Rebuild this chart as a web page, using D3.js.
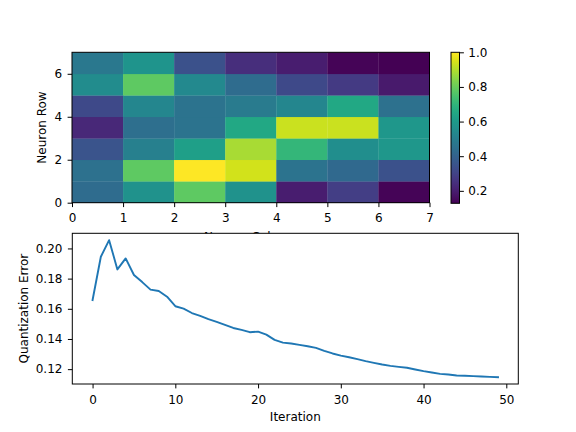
<!DOCTYPE html>
<html>
<head>
<meta charset="utf-8">
<script src="https://cdn.jsdelivr.net/npm/d3@7"></script>
<style>
  body { margin: 0; background: white; }
  text { font-family: "DejaVu Sans", sans-serif; }
</style>
</head>
<body>
<div id="chart"></div>
<script>
// SOM weights map, row 0 at the bottom
let neuron_rows = [0, 1, 2, 3, 4, 5, 6];
let neuron_cols = [0, 1, 2, 3, 4, 5, 6];
let row0 = [0.433, 0.573, 0.782, 0.573, 0.198, 0.285, 0.137];
let row1 = [0.451, 0.782, 1.000, 0.939, 0.459, 0.424, 0.346];
let row2 = [0.355, 0.503, 0.616, 0.887, 0.704, 0.555, 0.590];
let row3 = [0.224, 0.442, 0.459, 0.651, 0.930, 0.930, 0.590];
let row4 = [0.320, 0.529, 0.459, 0.486, 0.529, 0.651, 0.451];
let row5 = [0.547, 0.782, 0.538, 0.433, 0.320, 0.276, 0.189];
let row6 = [0.477, 0.581, 0.346, 0.241, 0.198, 0.137, 0.128];
let grid = [row0, row1, row2, row3, row4, row5, row6];

let heat_x_ticks = [0, 1, 2, 3, 4, 5, 6, 7];
let heat_y_ticks = [0, 2, 4, 6];
let cbar_ticks = [0.2, 0.4, 0.6, 0.8, 1.0];

// quantization error per iteration
let iterations = d3.range(50);
let q_error = [
    0.1658, 0.1945, 0.2055, 0.1861, 0.1934, 0.1824, 0.1777, 0.1727, 0.1718, 0.1680,
    0.1617, 0.1601, 0.1572, 0.1553, 0.1531, 0.1513, 0.1493, 0.1473, 0.1460, 0.1445,
    0.1449, 0.1429, 0.1394, 0.1376, 0.1370, 0.1361, 0.1352, 0.1341, 0.1321, 0.1304,
    0.1290, 0.1279, 0.1266, 0.1253, 0.1242, 0.1231, 0.1222, 0.1215, 0.1209, 0.1198,
    0.1187, 0.1178, 0.1169, 0.1165, 0.1158, 0.1156, 0.1154, 0.1151, 0.1149, 0.1147
];
let err_x_ticks = [0, 10, 20, 30, 40, 50];
let err_y_ticks = [0.12, 0.14, 0.16, 0.18, 0.20];

let width = 576, height = 432;
let font_size = "12px";
let tick_len = 4.4;

let svg = d3.select("#chart")
    .append("svg")
    .attr("width", width)
    .attr("height", height);

svg.append("rect").attr("width", width).attr("height", height).attr("fill", "white");

function style_axis(g) {
    g.selectAll("path").attr("stroke", "black").attr("stroke-width", 1);
    g.selectAll("line").attr("stroke", "black").attr("stroke-width", 1);
    g.selectAll("text")
        .attr("font-family", "DejaVu Sans, sans-serif")
        .attr("font-size", font_size)
        .attr("fill", "black");
}

// ---------- heatmap ----------
let hm = {left: 72, right: 429.5, top: 52.3, bottom: 202.7};

let hx = d3.scaleLinear().domain([0, 7]).range([hm.left, hm.right]);
let hy = d3.scaleLinear().domain([0, 7]).range([hm.bottom, hm.top]);

let all_vals = grid.flat();
let color = d3.scaleSequential(d3.interpolateViridis)
    .domain([d3.min(all_vals), d3.max(all_vals)]);

let cells = [];
grid.forEach(function(row, r) {
    row.forEach(function(v, c) {
        cells.push({row: neuron_rows[r], col: neuron_cols[c], value: v});
    });
});

svg.append("g")
    .selectAll("rect")
    .data(cells)
    .enter()
    .append("rect")
    .attr("x", function(d) { return hx(d.col); })
    .attr("y", function(d) { return hy(d.row + 1); })
    .attr("width", function(d) { return hx(d.col + 1) - hx(d.col) + 0.3; })
    .attr("height", function(d) { return hy(d.row) - hy(d.row + 1) + 0.3; })
    .attr("fill", function(d) { return color(d.value); });

svg.append("rect")
    .attr("x", hm.left).attr("y", hm.top)
    .attr("width", hm.right - hm.left).attr("height", hm.bottom - hm.top)
    .attr("fill", "none").attr("stroke", "black").attr("stroke-width", 1);

svg.append("g")
    .attr("transform", "translate(0," + hm.bottom + ")")
    .call(d3.axisBottom(hx).tickValues(heat_x_ticks).tickFormat(d3.format("d")).tickSize(tick_len).tickPadding(6.5))
    .call(style_axis)
    .select(".domain").remove();

svg.append("g")
    .attr("transform", "translate(" + hm.left + ",0)")
    .call(d3.axisLeft(hy).tickValues(heat_y_ticks).tickFormat(d3.format("d")).tickSize(tick_len).tickPadding(5.5))
    .call(style_axis)
    .select(".domain").remove();

svg.append("text")
    .attr("transform", "translate(46," + ((hm.top + hm.bottom) / 2) + ")rotate(-90)")
    .attr("text-anchor", "middle")
    .attr("font-size", font_size)
    .text("Neuron Row");

// this label ends up under the lower axes, like the original
svg.append("text")
    .attr("x", (hm.left + hm.right) / 2)
    .attr("y", 240.5)
    .attr("text-anchor", "middle")
    .attr("font-size", font_size)
    .text("Neuron Column");

// ---------- colorbar ----------
let cb = {left: 451, right: 459.5, top: 52.3, bottom: 203.3};
let cy = d3.scaleLinear().domain(color.domain()).range([cb.bottom, cb.top]);

let defs = svg.append("defs");
let grad = defs.append("linearGradient")
    .attr("id", "cbar_grad")
    .attr("x1", "0").attr("y1", "1").attr("x2", "0").attr("y2", "0");
d3.range(0, 1.0001, 0.05).forEach(function(t) {
    grad.append("stop")
        .attr("offset", t)
        .attr("stop-color", d3.interpolateViridis(t));
});

svg.append("rect")
    .attr("x", cb.left).attr("y", cb.top)
    .attr("width", cb.right - cb.left).attr("height", cb.bottom - cb.top)
    .attr("fill", "url(#cbar_grad)")
    .attr("stroke", "black").attr("stroke-width", 1);

svg.append("g")
    .attr("transform", "translate(" + cb.right + ",0)")
    .call(d3.axisRight(cy).tickValues(cbar_ticks).tickFormat(d3.format(".1f")).tickSize(tick_len).tickPadding(4.4))
    .call(style_axis)
    .select(".domain").remove();

// ---------- quantization error ----------
let lp = {left: 72.3, right: 518.3, top: 233.3, bottom: 384};

let ex_pad = (d3.max(iterations) - d3.min(iterations)) * 0.05;
let ex = d3.scaleLinear()
    .domain([d3.min(iterations) - ex_pad, d3.max(iterations) + ex_pad])
    .range([lp.left, lp.right]);
let ey_pad = (d3.max(q_error) - d3.min(q_error)) * 0.05;
let ey = d3.scaleLinear()
    .domain([d3.min(q_error) - ey_pad, d3.max(q_error) + ey_pad])
    .range([lp.bottom, lp.top]);

// white face hides the heatmap x label
svg.append("rect")
    .attr("x", lp.left).attr("y", lp.top)
    .attr("width", lp.right - lp.left).attr("height", lp.bottom - lp.top)
    .attr("fill", "white");

let line = d3.line()
    .x(function(d, i) { return ex(iterations[i]); })
    .y(function(d) { return ey(d); });

svg.append("path")
    .datum(q_error)
    .attr("d", line)
    .attr("fill", "none")
    .attr("stroke", "#1f77b4")
    .attr("stroke-width", 1.9)
    .attr("stroke-linejoin", "round")
    .attr("stroke-linecap", "square");

svg.append("rect")
    .attr("x", lp.left).attr("y", lp.top)
    .attr("width", lp.right - lp.left).attr("height", lp.bottom - lp.top)
    .attr("fill", "none").attr("stroke", "black").attr("stroke-width", 1);

svg.append("g")
    .attr("transform", "translate(0," + lp.bottom + ")")
    .call(d3.axisBottom(ex).tickValues(err_x_ticks).tickFormat(d3.format("d")).tickSize(tick_len).tickPadding(7))
    .call(style_axis)
    .select(".domain").remove();

svg.append("g")
    .attr("transform", "translate(" + lp.left + ",0)")
    .call(d3.axisLeft(ey).tickValues(err_y_ticks).tickFormat(d3.format(".2f")).tickSize(tick_len).tickPadding(5.5))
    .call(style_axis)
    .select(".domain").remove();

svg.append("text")
    .attr("x", (lp.left + lp.right) / 2)
    .attr("y", 421)
    .attr("text-anchor", "middle")
    .attr("font-size", font_size)
    .text("Iteration");

svg.append("text")
    .attr("transform", "translate(27.5," + ((lp.top + lp.bottom) / 2) + ")rotate(-90)")
    .attr("text-anchor", "middle")
    .attr("font-size", font_size)
    .text("Quantization Error");
</script>
</body>
</html>
